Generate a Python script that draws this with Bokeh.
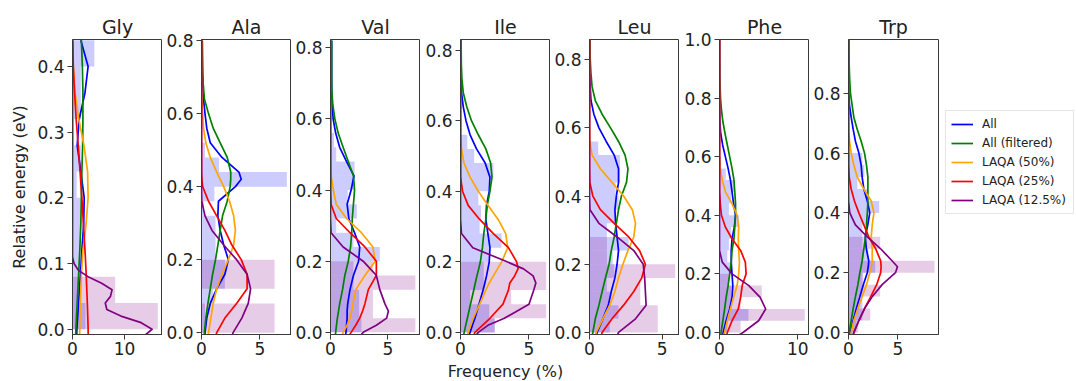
from bokeh.plotting import figure
from bokeh.layouts import row, column
from bokeh.models import Range1d, FixedTicker, Legend, LegendItem, PrintfTickFormatter
from bokeh.core.properties import value
from bokeh.embed import file_html
from bokeh.resources import INLINE

SERIES = ["All", "All (filtered)", "LAQA (50%)", "LAQA (25%)", "LAQA (12.5%)"]
COLORS = ["blue", "green", "orange", "red", "purple"]
BIN = 0.04  # histogram bin width (eV), bins start at 0
X_LABEL = "Frequency (%)"
Y_LABEL = "Relative energy (eV)"

# ---------------- Gly ----------------
E_GLY = [-0.01, 0, 0.01, 0.02, 0.03, 0.04, 0.05, 0.06, 0.07, 0.08, 0.09, 0.10, 0.11, 0.12,
         0.16, 0.20, 0.24, 0.28, 0.32, 0.36, 0.40, 0.44]
GLY_ALL = [0.8, 0.85, 0.92, 1.0, 1.08, 1.15, 1.25, 1.33, 1.42, 1.5, 1.58, 1.65, 1.72, 1.8,
           2.15, 2.25, 1.6, 0.9, 1.3, 2.4, 3.0, 1.6]
GLY_FILT = [0.6, 0.65, 0.71, 0.77, 0.84, 0.9, 0.96, 1.03, 1.09, 1.15, 1.22, 1.28, 1.34, 1.4,
            1.6, 1.7, 1.8, 1.95, 2.0, 2.0, 1.9, 1.7]
GLY_50 = [1.35, 1.4, 1.42, 1.45, 1.47, 1.5, 1.55, 1.6, 1.65, 1.7, 1.77, 1.85, 1.92, 2.0,
          2.6, 3.0, 2.9, 2.2, 1.2, 0.5, 0.15, 0.02]
GLY_25 = [3.02, 3.0, 2.97, 2.93, 2.89, 2.85, 2.8, 2.75, 2.7, 2.65, 2.59, 2.53, 2.47, 2.4,
          2.1, 1.8, 1.45, 1.1, 0.7, 0.4, 0.15, 0.05]
GLY_125 = [13.8, 15.3, 13.2, 9.3, 6.6, 6.3, 7.3, 7.6, 5.6, 3.0, 1.1, 0.3, 0.0, 0.0,
           0, 0, 0, 0, 0, 0, 0, 0]
GLY_H_ALL = [2.5, 1.5, 1.5, 1.6, 1.6, 0.8, 1.6, 0.3, 1.6, 1.6, 4.2]
GLY_H_125 = [16.4, 8.2]

# ---------------- Ala ----------------
E_ALA = [-0.01, 0, 0.04, 0.08, 0.12, 0.16, 0.20, 0.24, 0.28, 0.32, 0.36, 0.40, 0.42, 0.44,
         0.48, 0.52, 0.56, 0.60, 0.64, 0.68, 0.72, 0.76, 0.80]
ALA_ALL = [0.28, 0.3, 0.45, 0.75, 1.3, 2.0, 2.3, 1.9, 1.6, 1.4, 1.45, 2.9, 3.4, 3.2,
           1.75, 0.75, 0.45, 0.3, 0.17, 0.1, 0.08, 0.07, 0.06]
ALA_FILT = [0.22, 0.25, 0.37, 0.55, 0.75, 0.95, 1.2, 1.4, 1.6, 1.8, 2.2, 2.45, 2.5, 2.5,
            2.2, 1.6, 1.0, 0.6, 0.25, 0.15, 0.1, 0.08, 0.07]
ALA_50 = [0.55, 0.6, 0.8, 1.0, 1.3, 1.75, 2.3, 2.75, 2.9, 2.75, 2.4, 1.9, 1.6, 1.3,
          0.75, 0.37, 0.17, 0.1, 0.03, 0, 0, 0, 0]
ALA_25 = [1.2, 1.3, 2.0, 3.0, 3.9, 3.9, 3.4, 2.6, 2.0, 1.3, 0.6, 0.1, 0.03, 0.0,
          0, 0, 0, 0, 0, 0, 0, 0, 0]
ALA_125 = [2.6, 2.7, 3.45, 4.0, 4.2, 3.9, 3.0, 1.9, 0.9, 0.3, 0.02, 0, 0, 0,
           0, 0, 0, 0, 0, 0, 0, 0, 0]
ALA_H_ALL = [0.3, 0.3, 1.0, 2.0, 2.0, 1.2, 1.2, 1.2, 0.2, 1.1, 7.3, 1.5, 0.3]
ALA_H_125 = [6.25, 6.25, 0, 6.25, 6.25]

# ---------------- Val ----------------
E_VAL = [-0.01, 0, 0.02, 0.04, 0.06, 0.08, 0.12, 0.16, 0.20, 0.24, 0.28, 0.32, 0.36, 0.40,
         0.44, 0.48, 0.52, 0.56, 0.60, 0.64, 0.68, 0.72, 0.76, 0.80, 0.82]
VAL_ALL = [1.3, 1.35, 1.4, 1.45, 1.45, 1.5, 1.7, 2.0, 2.45, 2.55, 2.1, 1.6, 1.45, 1.8,
           2.05, 1.4, 0.8, 0.45, 0.23, 0.15, 0.1, 0.1, 0.1, 0.1, 0.1]
VAL_FILT = [0.42, 0.45, 0.52, 0.6, 0.7, 0.8, 1.05, 1.25, 1.55, 1.75, 1.85, 1.9, 2.0, 2.1,
            2.0, 1.55, 1.1, 0.67, 0.38, 0.2, 0.12, 0.1, 0.1, 0.1, 0.1]
VAL_50 = [1.0, 1.1, 1.45, 1.7, 1.85, 1.95, 2.2, 3.0, 3.9, 3.7, 2.7, 1.4, 0.5, 0.25,
          0.05, 0, 0, 0, 0, 0, 0, 0, 0, 0, 0]
VAL_25 = [1.6, 1.8, 2.2, 2.55, 2.8, 3.0, 3.3, 4.0, 4.0, 3.0, 1.7, 0.5, 0.05, 0,
          0, 0, 0, 0, 0, 0, 0, 0, 0, 0, 0]
VAL_125 = [2.6, 2.85, 4.0, 4.9, 5.05, 4.75, 4.3, 4.0, 2.85, 1.1, 0.05, 0, 0, 0,
           0, 0, 0, 0, 0, 0, 0, 0, 0, 0, 0]
VAL_H_ALL = [2.7, 2.5, 2.5, 2.0, 2.0, 4.3, 2.0, 0.5, 2.3, 1.5, 2.1, 2.1, 0.5, 0.3]
VAL_H_125 = [7.4, 3.7, 3.7, 7.4, 3.7]

# ---------------- Ile ----------------
E_ILE = [-0.01, 0, 0.02, 0.04, 0.08, 0.12, 0.14, 0.16, 0.18, 0.20, 0.24, 0.28, 0.32, 0.36,
         0.40, 0.44, 0.48, 0.52, 0.56, 0.60, 0.64, 0.68, 0.72, 0.76, 0.80, 0.83]
ILE_ALL = [0.6, 0.7, 0.87, 1.05, 1.35, 1.65, 1.78, 1.9, 2.0, 2.1, 2.15, 2.0, 1.85, 1.9,
           2.1, 2.15, 1.8, 1.17, 0.7, 0.4, 0.2, 0.07, 0.04, 0.03, 0.03, 0.03]
ILE_FILT = [0.22, 0.27, 0.38, 0.5, 0.73, 0.97, 1.08, 1.2, 1.33, 1.45, 1.6, 1.7, 1.85, 1.95,
            2.15, 2.3, 2.2, 1.85, 1.3, 0.8, 0.45, 0.2, 0.1, 0.06, 0.05, 0.05]
ILE_50 = [0.5, 0.56, 0.74, 0.92, 1.4, 1.85, 2.1, 2.4, 2.7, 3.0, 3.45, 3.3, 2.75, 2.0,
          1.3, 0.7, 0.25, 0.07, 0, 0, 0, 0, 0, 0, 0, 0]
ILE_25 = [0.95, 1.05, 1.6, 2.15, 3.1, 3.5, 3.6, 3.95, 4.2, 4.1, 3.5, 2.4, 1.4, 0.56,
          0.15, 0, 0, 0, 0, 0, 0, 0, 0, 0, 0, 0]
ILE_125 = [1.1, 1.3, 2.0, 3.2, 5.0, 5.35, 5.5, 5.3, 4.6, 3.4, 0.9, 0.07, 0, 0,
           0, 0, 0, 0, 0, 0, 0, 0, 0, 0, 0, 0]
ILE_H_ALL = [2.5, 2.1, 0.7, 1.7, 1.7, 2.1, 3.0, 1.4, 1.5, 1.3, 2.1, 2.4, 1.0, 0.5]
ILE_H_125 = [2.5, 6.25, 3.7, 6.25, 6.25]

# ---------------- Leu ----------------
E_LEU = [-0.01, 0, 0.04, 0.08, 0.12, 0.16, 0.20, 0.24, 0.28, 0.32, 0.36, 0.40, 0.44, 0.48,
         0.52, 0.56, 0.60, 0.64, 0.68, 0.72, 0.76, 0.80, 0.86]
LEU_ALL = [0.45, 0.53, 0.92, 1.3, 1.5, 1.75, 1.9, 2.0, 1.9, 1.8, 1.75, 1.85, 2.0, 2.0,
           1.7, 1.15, 0.65, 0.3, 0.1, 0.05, 0.03, 0.02, 0.02]
LEU_FILT = [0.2, 0.23, 0.4, 0.65, 0.87, 1.1, 1.35, 1.5, 1.7, 1.85, 2.0, 2.2, 2.55, 2.65,
            2.45, 2.0, 1.45, 0.87, 0.4, 0.18, 0.1, 0.05, 0.03]
LEU_50 = [0.4, 0.46, 0.92, 1.4, 1.75, 2.0, 2.3, 2.65, 3.05, 3.17, 2.95, 2.35, 1.55, 0.75,
          0.18, 0.02, 0, 0, 0, 0, 0, 0, 0]
LEU_25 = [0.8, 0.87, 1.55, 2.35, 3.05, 3.6, 3.85, 3.45, 2.7, 1.7, 0.75, 0.23, 0.02, 0,
          0, 0, 0, 0, 0, 0, 0, 0, 0]
LEU_125 = [1.9, 2.0, 3.17, 3.9, 3.85, 3.8, 3.7, 3.05, 1.9, 0.65, 0.03, 0, 0, 0,
           0, 0, 0, 0, 0, 0, 0, 0, 0]
LEU_H_ALL = [1.4, 2.0, 1.4, 1.2, 1.7, 1.6, 2.7, 1.2, 1.8, 2.0, 1.8, 2.1, 2.1, 0.6]
LEU_H_125 = [4.7, 4.7, 3.5, 3.5, 5.9, 1.2, 1.2]

# ---------------- Phe ----------------
E_PHE = [-0.01, 0, 0.04, 0.08, 0.12, 0.16, 0.20, 0.24, 0.28, 0.32, 0.36, 0.40, 0.44, 0.48,
         0.52, 0.56, 0.60, 0.64, 0.68, 0.72, 0.76, 0.80, 0.88, 1.0]
PHE_ALL = [0.4, 0.47, 0.85, 1.3, 1.6, 1.7, 1.6, 1.5, 1.5, 1.6, 1.9, 2.05, 1.8, 1.6,
           1.4, 1.1, 0.75, 0.4, 0.15, 0.05, 0.02, 0.01, 0, 0]
PHE_FILT = [0.17, 0.2, 0.43, 0.65, 0.85, 1.1, 1.3, 1.5, 1.6, 1.85, 1.95, 2.05, 2.05, 1.95,
            1.85, 1.6, 1.3, 1.0, 0.7, 0.43, 0.25, 0.13, 0.03, 0.0]
PHE_50 = [0.6, 0.65, 1.0, 1.4, 1.8, 2.25, 2.45, 2.55, 2.45, 2.4, 2.45, 2.25, 1.6, 0.75,
          0.35, 0.08, 0, 0, 0, 0, 0, 0, 0, 0]
PHE_25 = [0.9, 1.0, 1.6, 2.4, 2.7, 2.9, 3.4, 3.3, 2.7, 1.6, 0.75, 0.25, 0.1, 0.0,
          0, 0, 0, 0, 0, 0, 0, 0, 0, 0]
PHE_125 = [2.4, 3.0, 5.0, 5.9, 5.2, 3.75, 1.6, 0.35, 0.0, 0, 0, 0, 0, 0,
           0, 0, 0, 0, 0, 0, 0, 0, 0, 0]
PHE_H_ALL = [1.0, 3.7, 1.5, 1.5, 1.2, 1.5, 1.0, 1.2, 1.5, 2.5, 1.2, 1.5, 1.9, 0.8, 0.2]
PHE_H_125 = [2.7, 10.9, 2.7, 5.4, 1.2]

# ---------------- Trp ----------------
E_TRP = [-0.01, 0, 0.04, 0.08, 0.12, 0.16, 0.20, 0.22, 0.24, 0.28, 0.32, 0.36, 0.40, 0.44,
         0.48, 0.52, 0.56, 0.60, 0.64, 0.68, 0.72, 0.76, 0.80, 0.84, 0.88, 0.98]
TRP_ALL = [0.17, 0.2, 0.47, 0.8, 1.15, 1.5, 1.9, 2.0, 2.05, 1.8, 1.7, 1.95, 2.15, 1.9,
           1.55, 1.38, 1.28, 1.05, 0.7, 0.47, 0.27, 0.1, 0.02, 0, 0, 0]
TRP_FILT = [0.05, 0.07, 0.27, 0.47, 0.7, 0.95, 1.15, 1.27, 1.38, 1.55, 1.72, 1.82, 1.9, 1.96,
            1.96, 1.96, 1.82, 1.62, 1.28, 0.88, 0.54, 0.37, 0.2, 0.13, 0.08, 0.03]
TRP_50 = [0.22, 0.27, 0.54, 0.95, 1.38, 1.82, 2.15, 2.3, 2.4, 2.4, 2.3, 2.4, 2.57, 2.3,
          1.55, 0.88, 0.54, 0.27, 0.1, 0.0, 0, 0, 0, 0, 0, 0]
TRP_25 = [0.45, 0.54, 1.05, 1.62, 2.25, 2.85, 3.25, 3.3, 3.25, 2.75, 2.05, 1.55, 1.05, 0.6,
          0.27, 0.07, 0.0, 0, 0, 0, 0, 0, 0, 0, 0, 0]
TRP_125 = [0.45, 0.54, 1.05, 1.62, 2.4, 3.4, 4.75, 4.95, 4.4, 3.25, 1.9, 0.7, 0.13, 0.0,
           0, 0, 0, 0, 0, 0, 0, 0, 0, 0, 0, 0]
TRP_H_ALL = [0.8, 1.4, 1.4, 1.4, 1.4, 2.7, 2.0, 1.4, 1.4, 2.0, 3.1, 1.9, 0.9, 1.6, 1.4]
TRP_H_125 = [1.0, 2.2, 1.0, 3.2, 1.5, 8.7, 1.5, 3.2]

# name, energies, curves, hist(All), hist(12.5%), x range, y range, x ticks, y ticks,
# left border, right border
PANELS = [
    ("Gly", E_GLY, [GLY_ALL, GLY_FILT, GLY_50, GLY_25, GLY_125], GLY_H_ALL, GLY_H_125,
     (0, 17.3), (-0.008, 0.441), [0, 10], [0, 0.1, 0.2, 0.3, 0.4], 72, 0),
    ("Ala", E_ALA, [ALA_ALL, ALA_FILT, ALA_50, ALA_25, ALA_125], ALA_H_ALL, ALA_H_125,
     (0, 7.7), (-0.005, 0.803), [0, 5], [0, 0.2, 0.4, 0.6, 0.8], 39, 0),
    ("Val", E_VAL, [VAL_ALL, VAL_FILT, VAL_50, VAL_25, VAL_125], VAL_H_ALL, VAL_H_125,
     (0, 7.85), (-0.006, 0.823), [0, 5], [0, 0.2, 0.4, 0.6, 0.8], 39, 0),
    ("Ile", E_ILE, [ILE_ALL, ILE_FILT, ILE_50, ILE_25, ILE_125], ILE_H_ALL, ILE_H_125,
     (0, 6.57), (-0.006, 0.83), [0, 5], [0, 0.2, 0.4, 0.6, 0.8], 40, 0),
    ("Leu", E_LEU, [LEU_ALL, LEU_FILT, LEU_50, LEU_25, LEU_125], LEU_H_ALL, LEU_H_125,
     (0, 6.2), (-0.006, 0.859), [0, 5], [0, 0.2, 0.4, 0.6, 0.8], 39, 0),
    ("Phe", E_PHE, [PHE_ALL, PHE_FILT, PHE_50, PHE_25, PHE_125], PHE_H_ALL, PHE_H_125,
     (0, 11.5), (-0.007, 1.0), [0, 10], [0, 0.2, 0.4, 0.6, 0.8, 1.0], 40, 0),
    ("Trp", E_TRP, [TRP_ALL, TRP_FILT, TRP_50, TRP_25, TRP_125], TRP_H_ALL, TRP_H_125,
     (0, 9.1), (-0.0067, 0.98), [0, 5], [0, 0.2, 0.4, 0.6, 0.8], 39, 0),
]

FONT = "DejaVu Sans"
INK = "#222222"
EDGE = "#3a3a3a"
FRAME_W, FRAME_H = 90, 295
TOP, BOTTOM = 39, 28
LEGEND_W = 137

figs = []
x_cursor = 0
xlabel_center = 0
for i, (name, E, curves, h_all, h_125, xr, yr, xt, yt, left, right) in enumerate(PANELS):
    last = i == len(PANELS) - 1
    common = dict(x_range=Range1d(*xr), y_range=Range1d(*yr),
                  output_backend="svg", toolbar_location=None,
                  min_border_left=left, min_border_right=right,
                  min_border_top=TOP, min_border_bottom=BOTTOM)
    if last:
        p = figure(frame_width=FRAME_W, frame_height=FRAME_H, **common)
        width = left + FRAME_W + LEGEND_W
    else:
        width = left + FRAME_W + right
        p = figure(width=width, height=TOP + FRAME_H + BOTTOM, **common)
    if name == "Ile":
        xlabel_center = x_cursor + left + FRAME_W / 2
    x_cursor += width
    p.title.text = name
    p.title.align = "center"
    p.title.text_font = FONT
    p.title.text_font_size = "19px"
    p.title.text_font_style = "normal"
    p.title.text_color = INK
    p.title.standoff = 3
    p.grid.visible = False
    p.outline_line_color = EDGE
    p.outline_line_width = 1
    p.background_fill_color = "white"
    p.border_fill_color = "white"

    for ax in (p.xaxis[0], p.yaxis[0]):
        ax.minor_tick_line_color = None
        ax.major_tick_in = 0
        ax.major_tick_out = 5
        ax.major_tick_line_color = EDGE
        ax.axis_line_color = EDGE
        ax.major_label_text_font = FONT
        ax.major_label_text_font_size = "17px"
        ax.major_label_text_color = INK
    p.xaxis.ticker = FixedTicker(ticks=xt)
    p.yaxis.ticker = FixedTicker(ticks=yt)
    p.xaxis.formatter = PrintfTickFormatter(format="%d")
    p.yaxis.formatter = PrintfTickFormatter(format="%.1f")
    p.xaxis.major_label_standoff = 2
    p.yaxis.major_label_standoff = 3

    # histograms: "All" (blue) and "LAQA (12.5%)" (purple)
    yc_all = [BIN * (k + 0.5) for k in range(len(h_all))]
    yc_125 = [BIN * (k + 0.5) for k in range(len(h_125))]
    p.hbar(y=yc_all, height=BIN, left=0, right=h_all,
           fill_color="blue", fill_alpha=0.2, line_color=None)
    p.hbar(y=yc_125, height=BIN, left=0, right=h_125,
           fill_color="purple", fill_alpha=0.2, line_color=None)

    rs = []
    for vals, col in zip(curves, COLORS):
        r = p.line(vals, E, line_color=col, line_width=1.7, line_join="round")
        rs.append(r)

    if i == 0:
        p.yaxis.axis_label = Y_LABEL
        p.yaxis.axis_label_text_font = FONT
        p.yaxis.axis_label_text_font_size = "16px"
        p.yaxis.axis_label_text_font_style = "normal"
        p.yaxis.axis_label_text_color = INK
        p.yaxis.axis_label_standoff = 5
    if last:
        legend = Legend(items=[LegendItem(label=s, renderers=[r]) for s, r in zip(SERIES, rs)],
                        location=(7, 120))
        legend.margin = 0
        legend.padding = 5
        legend.spacing = 3
        legend.glyph_width = 22
        legend.glyph_height = 16
        legend.label_height = 16
        legend.label_width = 86
        legend.label_standoff = 9
        legend.label_text_font = FONT
        legend.label_text_font_size = "12px"
        legend.label_text_color = INK
        legend.border_line_color = "#cccccc"
        legend.border_line_width = 1
        legend.background_fill_alpha = 0.8
        p.add_layout(legend, "right")
    figs.append(p)

# shared x-axis label in a strip below the panels, centred under the middle panel
lab = figure(width=x_cursor, height=18, x_range=Range1d(0, x_cursor), y_range=Range1d(0, 18),
             output_backend="svg", toolbar_location=None, x_axis_type=None, y_axis_type=None,
             min_border=0)
lab.outline_line_color = None
lab.grid.visible = False
lab.text(x=[xlabel_center], y=[9], text=[X_LABEL], text_align="center",
         text_baseline="middle", text_font=value(FONT), text_font_size=value("16px"),
         text_color=INK)

layout = column(row(*figs), lab)
open("out.html", "w").write(file_html(layout, INLINE))
